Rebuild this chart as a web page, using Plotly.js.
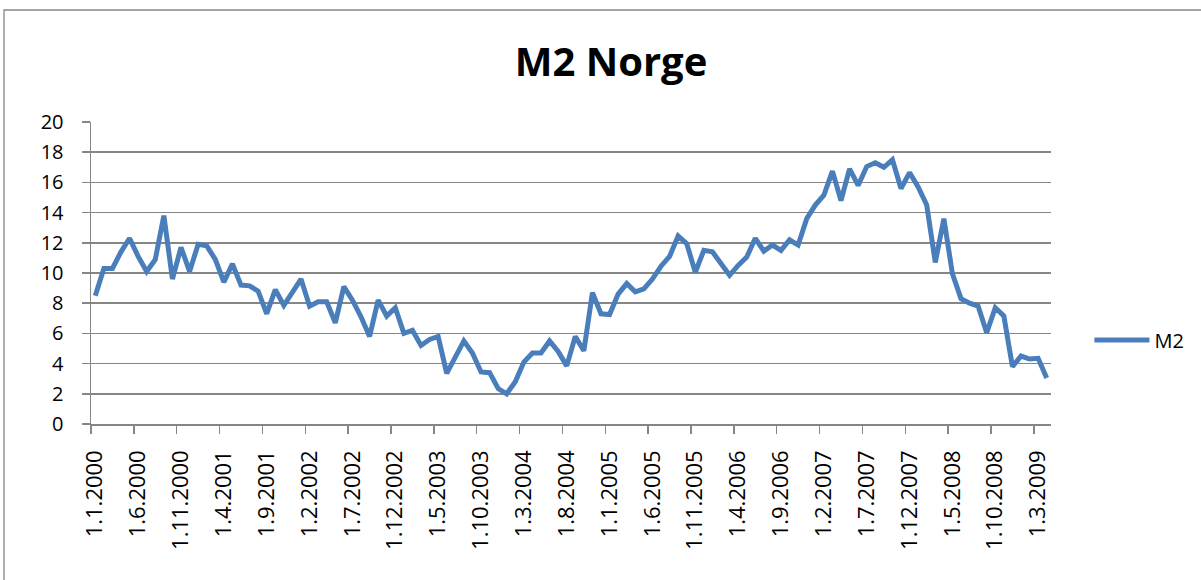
<!DOCTYPE html>
<html>
<head>
<meta charset="utf-8">
<script src="https://cdn.plot.ly/plotly-3.0.1.min.js"></script>
<style>html,body{margin:0;padding:0;background:#fff;}#chart{width:1201px;height:580px;}</style>
</head>
<body>
<div id="chart"></div>
<script>
// Data: monthly M2 growth, Norway, starting 1.1.2000
var startYear = 2000;
var startMonth = 1;
var m2Values = [
  8.5, 10.3, 10.3, 11.4, 12.3, 11.1, 10.1, 10.9, 13.8, 9.6, 11.7, 10.1,
  11.9, 11.8, 10.9, 9.4, 10.6, 9.2, 9.15, 8.8, 7.3, 8.9, 7.85, 8.7,
  9.6, 7.8, 8.1, 8.1, 6.7, 9.1, 8.2, 7.1, 5.8, 8.2, 7.15, 7.7,
  6.0, 6.2, 5.2, 5.6, 5.8, 3.35, 4.35, 5.5, 4.7, 3.45, 3.4, 2.35,
  2.0, 2.8, 4.1, 4.7, 4.7, 5.5, 4.8, 3.85, 5.8, 4.85, 8.7, 7.3,
  7.25, 8.6, 9.3, 8.75, 8.95, 9.6, 10.45, 11.1, 12.45, 11.95, 10.05, 11.5,
  11.4, 10.65, 9.85, 10.5, 11.05, 12.3, 11.45, 11.85, 11.5, 12.2, 11.85, 13.6,
  14.5, 15.15, 16.75, 14.8, 16.9, 15.8, 17.05, 17.3, 17.0, 17.5, 15.6, 16.65,
  15.7, 14.5, 10.7, 13.6, 9.95, 8.3, 8.0, 7.8, 6.05, 7.7, 7.15, 3.8,
  4.5, 4.3, 4.35, 3.05
];
var seriesName = "M2";
var chartTitle = "M2 Norge";
var yTickValues = [0, 2, 4, 6, 8, 10, 12, 14, 16, 18, 20];

// Category labels "1.M.YYYY"
var dateLabels = [];
for (var i = 0; i < m2Values.length; i++) {
  var mm = (startMonth - 1 + i) % 12 + 1;
  var yy = startYear + Math.floor((startMonth - 1 + i) / 12);
  dateLabels.push("1." + mm + "." + yy);
}

var gridColor = "#868686";

var trace = {
  x: dateLabels,
  y: m2Values,
  type: "scatter",
  mode: "lines",
  name: seriesName,
  line: {color: "#4a7ebb", width: 5}
};

var layout = {
  width: 1201,
  height: 580,
  autosize: false,
  paper_bgcolor: "#fff",
  plot_bgcolor: "#fff",
  margin: {l: 91, r: 150, t: 122, b: 156, pad: 0},
  title: {
    text: chartTitle,
    font: {family: "Open Sans, sans-serif", size: 40, color: "#000", weight: "bold"},
    x: 611 / 1201, xanchor: "center", xref: "container",
    y: 1 - 62 / 580, yanchor: "middle", yref: "container"
  },
  showlegend: true,
  legend: {
    x: 1.04, xanchor: "left", y: (424 - 340) / 302, yanchor: "middle",
    itemwidth: 55,
    font: {family: "Open Sans, sans-serif", size: 20, color: "#000"},
    bgcolor: "rgba(0,0,0,0)", borderwidth: 0
  },
  xaxis: {
    type: "category",
    range: [-0.5, m2Values.length - 0.5],
    tickmode: "linear", tick0: 0, dtick: 5,
    tickson: "boundaries",
    ticks: "outside", ticklen: 8, tickwidth: 1.5, tickcolor: gridColor,
    tickangle: -90,
    tickfont: {family: "Open Sans, sans-serif", size: 22, color: "#000"},
    showgrid: false,
    showline: true, linecolor: gridColor, linewidth: 1.5,
    zeroline: false,
    ticklabelstandoff: 16
  },
  yaxis: {
    range: [0, 20],
    tickmode: "array", tickvals: yTickValues,
    ticks: "outside", ticklen: 8, tickwidth: 1.5, tickcolor: gridColor,
    tickfont: {family: "Open Sans, sans-serif", size: 20, color: "#000"},
    showgrid: true, gridcolor: gridColor, gridwidth: 1.5,
    showline: true, linecolor: gridColor, linewidth: 1.5,
    zeroline: false,
    ticklabelstandoff: 14
  },
  shapes: [{
    type: "rect", xref: "paper", yref: "paper",
    x0: (4 - 91) / 960, x1: (1230 - 91) / 960,
    y0: (424 - 600) / 302, y1: (424 - 10) / 302,
    line: {color: gridColor, width: 1.3}, fillcolor: "rgba(0,0,0,0)", layer: "below"
  }]
};

Plotly.newPlot("chart", [trace], layout, {displayModeBar: false, staticPlot: true});
</script>
</body>
</html>
